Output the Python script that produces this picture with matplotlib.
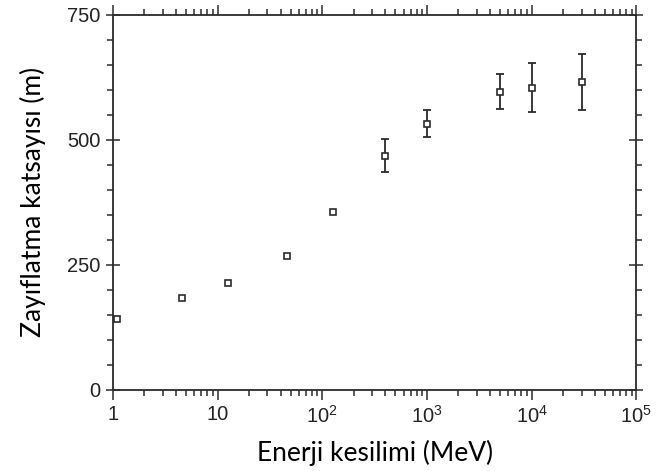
import numpy as np
import matplotlib.pyplot as plt
from matplotlib.ticker import LogLocator, MultipleLocator, NullFormatter

energy = [1.1, 4.6, 12.5, 46, 127, 400, 1000, 5000, 10000, 30000]
coef = [142, 184, 214, 268, 356, 468, 532, 596, 604, 616]
coef_err = [0, 0, 0, 0, 0, 33, 27, 35, 49, 56]

xtick_vals = [1, 10, 100, 1000, 10000, 100000]
xtick_labels = ["1", "10", "$10^2$", "$10^3$", "$10^4$", "$10^5$"]
ytick_vals = [0, 250, 500, 750]

plt.rcParams["font.family"] = ["Liberation Sans", "DejaVu Sans"]
plt.rcParams["mathtext.fontset"] = "custom"
plt.rcParams["mathtext.rm"] = "Liberation Sans"
plt.rcParams["mathtext.it"] = "Liberation Sans"

ink = "#2b2b2b"
fig = plt.figure(figsize=(6.56, 4.71), dpi=100)
ax = fig.add_axes([0.172, 0.172, 0.798, 0.797])

x = np.array(energy, dtype=float)
y = np.array(coef, dtype=float)
e = np.array(coef_err, dtype=float)
m = e > 0

ax.errorbar(x[m], y[m], yerr=e[m], fmt="none", ecolor=ink, elinewidth=1.3,
            capsize=3, capthick=1.3, zorder=2)
ax.plot(x, y, "s", ms=5, mfc="white", mec=ink, mew=1.2, zorder=3)

ax.set_xscale("log")
ax.set_xlim(1, 1e5)
ax.set_ylim(0, 750)

ax.set_xticks(xtick_vals, xtick_labels)
ax.xaxis.set_minor_locator(LogLocator(base=10, subs=np.arange(2, 10), numticks=20))
ax.xaxis.set_minor_formatter(NullFormatter())
ax.set_yticks(ytick_vals)
ax.yaxis.set_minor_locator(MultipleLocator(50))

for s in ax.spines.values():
    s.set_color(ink)
    s.set_linewidth(1.3)

ax.tick_params(which="both", top=True, right=True, direction="out", color=ink,
               width=1.1, labelsize=14.5, labelcolor="#222222")
ax.tick_params(which="major", length=7)
ax.tick_params(which="minor", length=4)
ax.tick_params(axis="y", which="major", direction="inout", length=10, pad=4)
ax.tick_params(axis="x", which="major", pad=4)

ax.set_xlabel("Enerji kesilimi (MeV)", fontsize=19, family=["Lato", "DejaVu Sans"],
              labelpad=9)
ax.set_ylabel("Zayıflatma katsayısı (m)", fontsize=19, family=["Lato", "DejaVu Sans"],
              labelpad=15)

fig.savefig("out.png", dpi=100)
